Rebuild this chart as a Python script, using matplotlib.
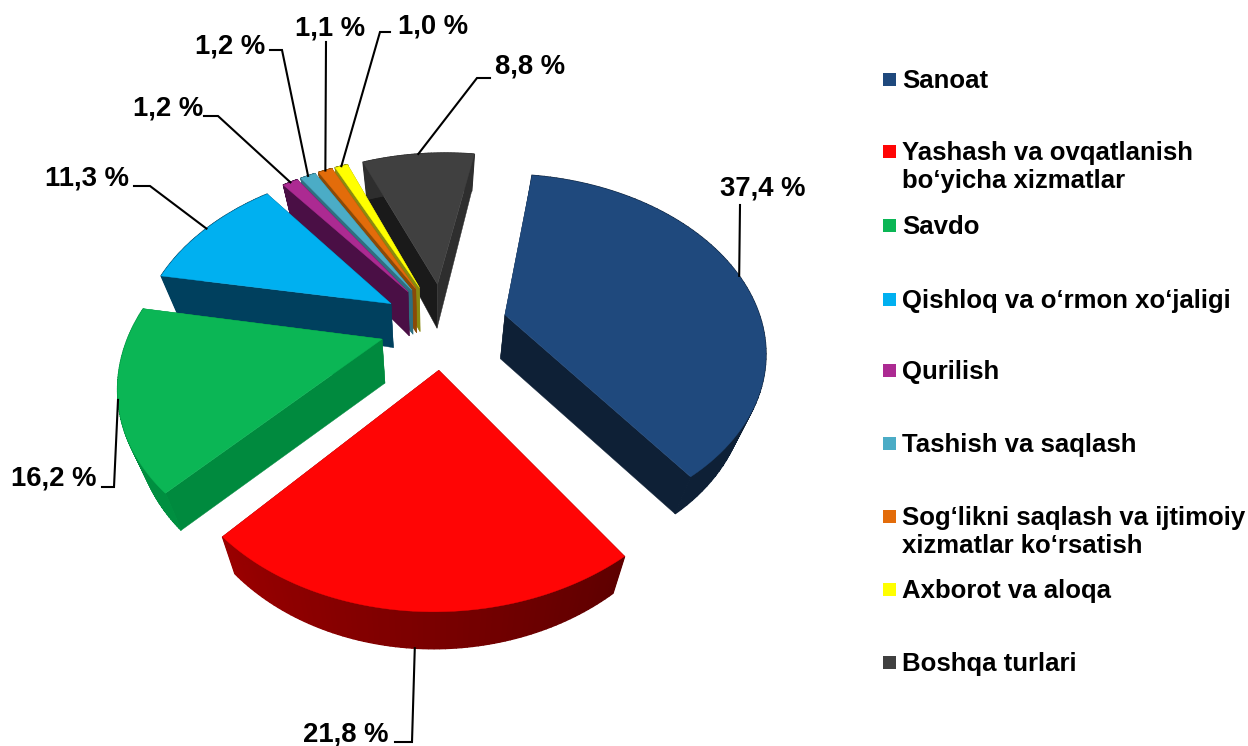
import numpy as np
import matplotlib
matplotlib.use("Agg")
import matplotlib.pyplot as plt
from matplotlib.patches import Polygon, Rectangle

categories = ["Sanoat", "Yashash va ovqatlanish\nbo‘yicha xizmatlar", "Savdo",
              "Qishloq va o‘rmon xo‘jaligi", "Qurilish", "Tashish va saqlash",
              "Sog‘likni saqlash va ijtimoiy\nxizmatlar ko‘rsatish", "Axborot va aloqa",
              "Boshqa turlari"]
values = [37.4, 21.8, 16.2, 11.3, 1.2, 1.2, 1.1, 1.0, 8.8]
top_colors = ["#1f497d", "#ff0505", "#0bb655", "#00b0f0", "#ac2a92", "#4bacc6", "#e36c0a", "#ffff00", "#404040"]
start_wall = ["#0e2036", "#700000", "#008a3e", "#00405e", "#4a0f45", "#2f6f80", "#8a4a08", "#8a8a10", "#1a1a1a"]
end_wall = ["#0e2036", "#700000", "#008a3e", "#00405e", "#4a0f45", "#2f6f80", "#8a4a08", "#8a8a10", "#2e2e2e"]
arc_colors = ["#0e2036", "#760000", "#008f40", "#00405e", "#4a0f45", "#2f6f80", "#8a4a08", "#8a8a10", "#2e2e2e"]
label_x = [720, 303, 11, 45, 133, 195, 295, 398, 495]
label_y = [189, 734, 478, 179, 109, 46, 28, 26, 67]
elbows = [[(740, 205)], [(412, 742), (395, 742)], [(114, 487), (102, 487)],
          [(150, 186), (134, 186)], [(218, 116), (204, 116)], [(282, 50), (270, 50)],
          [(326, 42)], [(380, 32), (390, 32)], [(477, 78), (490, 78)]]
legend_y = [79, 151, 225, 299, 370, 443, 516, 589, 662]

START = 11.5
EXPLODE = 0.25
CX, CY, A, B, K, SHEAR, ROLL = 443.5, 325.0, 172.0, 254.0, 0.20, 6.0, -8.0
RIM_DEPTH, APEX_DEPTH, VX, SHRINK = 37.0, 44.0, 430.0, 0.06
FONT = ["Liberation Sans", "DejaVu Sans"]


def project(u, v):
    w = 1 - K * v
    return np.column_stack([CX + (B * u + SHEAR * v) / w, CY + (A * v + ROLL * u) / w])


def lower(p, depth):
    p = np.asarray(p, float)
    return np.column_stack([p[:, 0] - (p[:, 0] - VX) * SHRINK, p[:, 1] + depth])


def mix(c, amount):
    rgb = np.array(matplotlib.colors.to_rgb(c))
    return tuple(np.clip(rgb * amount, 0, 1))


fig = plt.figure(figsize=(12.48, 7.46), dpi=100, facecolor="white")
ax = fig.add_axes([0, 0, 1, 1])
ax.set_xlim(0, 1248)
ax.set_ylim(746, 0)
ax.axis("off")

bounds = START + np.concatenate([[0], np.cumsum(values)]) * 3.6
mids = (bounds[:-1] + bounds[1:]) / 2
order = np.argsort(-np.cos(np.radians(mids)))
anchors = [None] * len(values)

for rank, i in enumerate(order):
    z = 2 + 0.1 * rank
    th = np.radians(np.linspace(bounds[i], bounds[i + 1], 80))
    m = np.radians(mids[i])
    eu, ev = EXPLODE * np.sin(m), -EXPLODE * np.cos(m)
    rim = project(eu + np.sin(th), ev - np.cos(th))
    apex = project(np.array([eu]), np.array([ev]))
    low_rim, low_apex = lower(rim, RIM_DEPTH), lower(apex, APEX_DEPTH)
    for k, colour in ((0, start_wall[i]), (-1, end_wall[i])):
        quad = np.vstack([apex, rim[[k]], low_rim[[k]], low_apex])
        ax.add_patch(Polygon(quad, fc=colour, ec=colour, lw=0.3, zorder=z))
    for j in range(len(rim) - 1):
        t = j / (len(rim) - 2)
        shade = 0.8 + 0.5 * t if i == 1 else 1.0
        quad = np.vstack([rim[j:j + 2], low_rim[j:j + 2][::-1]])
        c = mix(arc_colors[i], shade)
        ax.add_patch(Polygon(quad, fc=c, ec=c, lw=1.0, zorder=z))
    ax.add_patch(Polygon(np.vstack([apex, rim]), fc=top_colors[i], ec=top_colors[i], lw=0.3, zorder=z + 0.01))
    mid_pt = project(np.array([eu + np.sin(m)]), np.array([ev - np.cos(m)]))
    anchors[i] = lower(mid_pt, RIM_DEPTH)[0] if -np.cos(m) > 0.8 else mid_pt[0]

for i, name in enumerate(categories):
    pts = np.vstack([anchors[i], elbows[i]])
    ax.plot(pts[:, 0], pts[:, 1], color="black", lw=1.5, solid_joinstyle="miter", zorder=5)
    ax.text(label_x[i], label_y[i], f"{values[i]:.1f} %".replace(".", ","), family=FONT, weight="bold",
            fontsize=19.8, ha="left", va="center", color="black", zorder=6)
    ax.add_patch(Rectangle((883, legend_y[i] - 6.5), 13, 13, fc=top_colors[i], ec="none", zorder=6))
    ax.text(902, legend_y[i] - 10, name, family=FONT, weight="bold", fontsize=18.55, ha="left", va="top",
            color="black", linespacing=1.2, zorder=6)

fig.savefig("out.png", dpi=100, facecolor="white")
